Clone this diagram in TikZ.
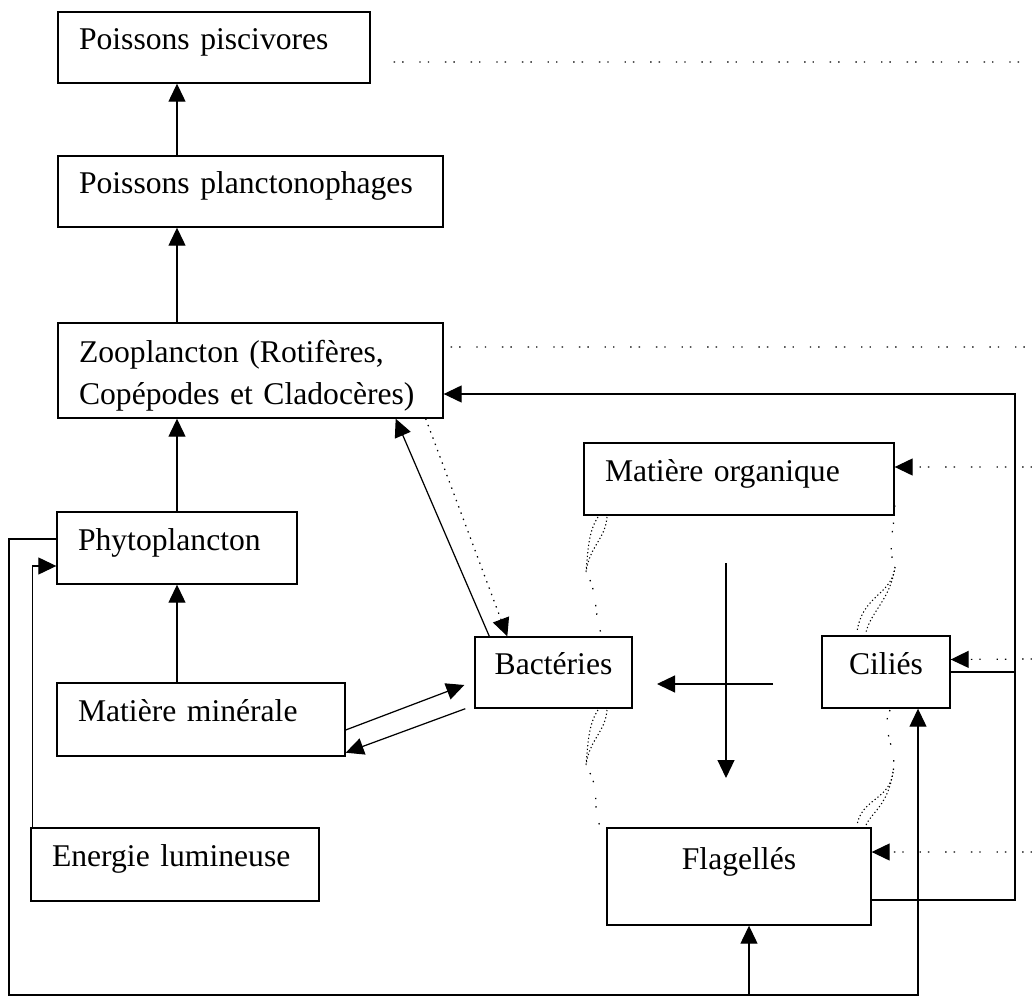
\documentclass[tikz,border=0pt]{standalone}
\usepackage{fontspec}
\setmainfont{Liberation Serif}
\usetikzlibrary{arrows.meta}

\begin{document}
\begin{tikzpicture}[x=0.02cm, y=-0.02cm,
    every node/.style={font=\fontsize{18}{24}\selectfont},
    box/.style={draw, line width=0.8pt, inner xsep=0.42cm, inner ysep=0pt, text height=0.5cm, text depth=0.42cm, align=left},
    cbox/.style={box, inner xsep=0.2cm, align=center},
    arr/.style={line width=0.7pt, -{Triangle[length=0.36cm, width=0.34cm]}},
    dotarr/.style={arr, dash pattern=on 0.8pt off 3pt},
    faint/.style={line width=0.7pt, dash pattern=on 0.8pt off 4pt on 0.8pt off 9pt},
    leaf/.style={line width=0.6pt, dash pattern=on 0.7pt off 1.4pt}]
    \useasboundingbox (0,0) rectangle (1032,997);

    % Food chain column
    \node[box, text width=5.4cm, minimum height=1.42cm] (pisc) at (214,47.5) {Poissons piscivores};
    \node[box, text width=6.86cm, minimum height=1.42cm] (planct) at (250.5,191.5) {Poissons planctonophages};
    \node[box, text width=6.86cm, minimum height=1.9cm, text depth=0.84cm] (zoo) at (250.5,370.5) {Zooplancton (Rotifères,\\Copépodes et Cladocères)};
    \node[box, text width=3.96cm, minimum height=1.44cm] (phyto) at (177,548) {Phytoplancton};
    \node[box, text width=4.92cm, minimum height=1.46cm] (mm) at (201,719.5) {Matière minérale};
    \node[box, text width=4.92cm, minimum height=1.46cm] (ener) at (175,864.5) {Energie lumineuse};

    % Microbial loop
    \node[box, text width=5.36cm, minimum height=1.44cm] (mo) at (739,479) {Matière organique};
    \node[cbox, minimum width=3.14cm, minimum height=1.42cm] (bact) at (553.5,672.5) {Bactéries};
    \node[cbox, minimum width=2.56cm, minimum height=1.44cm] (cil) at (886,672) {Ciliés};
    \node[cbox, minimum width=5.28cm, minimum height=1.94cm, text depth=0.8cm] (flag) at (739,876.5) {Flagellés};

    % Column arrows
    \draw[arr] (mm.north -| phyto.south) -- (phyto.south);
    \draw[arr] (phyto.north) -- (phyto.north |- zoo.south);
    \draw[arr] (phyto.north |- zoo.north) -- (phyto.north |- planct.south);
    \draw[arr] (phyto.north |- planct.north) -- (phyto.north |- pisc.south);

    % Light and the bottom loop
    \coordinate (loopsw) at (9,995);
    \coordinate (loopse) at (918,995);
    \coordinate (flagin) at (749,995);
    \draw[arr] ([xshift=0.04cm]ener.north west) |- ([yshift=-0.36cm]phyto.west);
    \draw[arr] ([yshift=0.18cm]phyto.west) -| (loopsw) -- (loopse) -- (loopse |- cil.south);
    \draw[arr] (flagin) -- (flagin |- flag.south);

    % Return to the zooplankton
    \coordinate (rbus) at (1015,394);
    \draw[arr] ([yshift=-0.47cm]flag.east) -| (rbus) -- (rbus -| zoo.east);
    \draw[line width=0.7pt] (cil.east) -- (cil.east -| rbus);

    % Bacteria exchanges
    \draw[arr] ([yshift=-0.21cm]mm.east) -- ([xshift=-0.2cm,yshift=-0.25cm]bact.west);
    \draw[arr] ([xshift=-0.18cm]bact.south west) -- ([yshift=0.08cm]mm.south east);
    \draw[arr] ([xshift=0.3cm]bact.north west) -- ([xshift=-0.96cm]zoo.south east);
    \draw[dotarr] ([xshift=-0.36cm]zoo.south east) -- ([xshift=0.66cm]bact.north west);

    % Central cross
    \coordinate (crossN) at (726,563);
    \coordinate (crossS) at (726,778);
    \coordinate (crossE) at (773,684);
    \coordinate (crossW) at (657,684);
    \draw[arr] (crossN) -- (crossS);
    \draw[arr] (crossE) -- (crossW);

    % Dotted lines from the right edge
    \coordinate (e1) at (1032,62);
    \coordinate (e2) at (1032,347);
    \coordinate (e3) at (1032,467);
    \coordinate (e4) at (1032,659);
    \coordinate (e5) at (1032,852);
    \draw[faint] ([xshift=0.46cm,yshift=-0.29cm]pisc.east) -- (e1);
    \draw[faint] ([xshift=0.14cm,yshift=0.47cm]zoo.east) -- (e2);
    \draw[faint, arr] (e3) -- ([yshift=0.24cm]mo.east);
    \draw[faint, arr] (e4) -- ([yshift=0.25cm]cil.east);
    \draw[faint, arr] (e5) -- ([yshift=0.49cm]flag.east);

    % Dotted ribbons
    \draw[leaf] (607,517) .. controls (605,540) and (590,545) .. (586,572);
    \draw[leaf] (598,517) .. controls (588,532) and (588,552) .. (586,572);
    \draw[faint] (590,580) .. controls (598,600) and (594,615) .. (602,636);
    \draw[leaf] (607,710) .. controls (605,733) and (590,738) .. (586,765);
    \draw[leaf] (598,710) .. controls (588,725) and (588,745) .. (586,765);
    \draw[faint] (590,773) .. controls (600,793) and (592,808) .. (600,826);
    \draw[faint] (894,497) .. controls (898,520) and (885,545) .. (895,567);
    \draw[leaf] (895,567) .. controls (892,595) and (862,595) .. (857,632);
    \draw[leaf] (895,567) .. controls (890,600) and (872,610) .. (866,632);
    \draw[faint] (890,710) .. controls (880,730) and (898,750) .. (893,772);
    \draw[leaf] (893,772) .. controls (890,800) and (862,798) .. (857,825);
    \draw[leaf] (893,772) .. controls (888,805) and (872,812) .. (866,825);
\end{tikzpicture}
\end{document}
